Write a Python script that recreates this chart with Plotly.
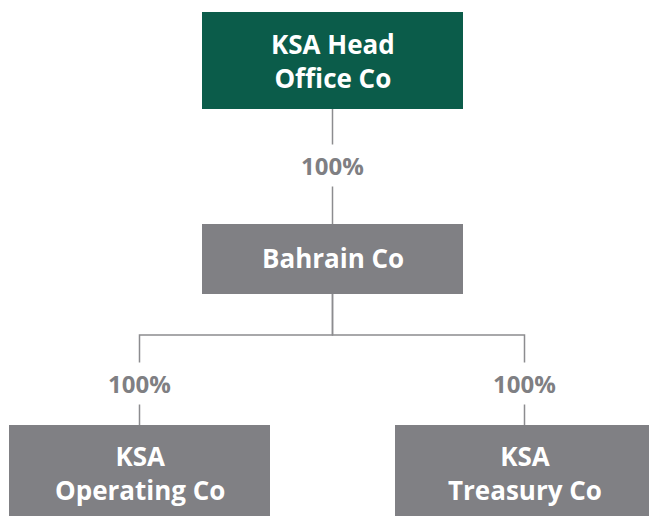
import plotly.graph_objects as go

# ---- data ----
entities = ["KSA Head<br>Office Co", "Bahrain Co", "KSA<br>Operating Co", "KSA<br>Treasury Co"]
parents = [None, 0, 1, 1]
ownership = [None, "100%", "100%", "100%"]
box_colors = ["#0b5c4a", "#808084", "#808084", "#808084"]

# ---- layout geometry (page pixels) ----
box_x0 = [202, 202, 9, 395]
box_x1 = [463, 463, 270, 660]
box_y0 = [12, 224, 425, 425]
box_y1 = [109, 294, 530, 530]
text_xc = [332.5, 332.5, 139.5, 524.5]
text_yc = [60.5, 257.5, 473, 473]
branch_y = 335
label_y = [None, 165, 383, 383]

W, H = 649, 516
line_col = "#8c8c8f"
label_col = "#7f7f83"
FONT = "Open Sans"

fig = go.Figure()
shapes = []
annotations = []

# connectors
for i, p in enumerate(parents):
    if p is None:
        continue
    xc = text_xc[i]
    xp = text_xc[p]
    if xc == xp:
        xs, ys = [xc, xc], [box_y1[p], box_y0[i]]
    else:
        xs, ys = [xp, xp, xc, xc], [box_y1[p], branch_y, branch_y, box_y0[i]]
    fig.add_trace(go.Scatter(x=xs, y=ys, mode="lines",
                             line=dict(color=line_col, width=1.5),
                             hoverinfo="skip", showlegend=False))
    annotations.append(dict(x=xc, y=label_y[i], text=f"<b>{ownership[i]}</b>",
                            showarrow=False, bgcolor="white", borderpad=4,
                            font=dict(family=FONT, size=24, color=label_col),
                            xref="x", yref="y"))

# boxes
for i, name in enumerate(entities):
    shapes.append(dict(type="rect", x0=box_x0[i], x1=box_x1[i], y0=box_y0[i], y1=box_y1[i],
                       fillcolor=box_colors[i], line=dict(width=0), layer="below",
                       xref="x", yref="y"))
    annotations.append(dict(x=text_xc[i], y=text_yc[i], text=f"<b>{name}</b>", showarrow=False,
                            font=dict(family=FONT, size=26, color="white"),
                            xref="x", yref="y"))

fig.update_layout(
    width=W, height=H, margin=dict(l=0, r=0, t=0, b=0),
    paper_bgcolor="white", plot_bgcolor="white",
    xaxis=dict(range=[0, W], visible=False, fixedrange=True),
    yaxis=dict(range=[H, 0], visible=False, fixedrange=True),
    shapes=shapes, annotations=annotations,
)
fig.write_html("out.html", config={"displayModeBar": False, "staticPlot": True},
               post_script="document.body.style.margin='0';document.body.style.overflow='hidden';")
